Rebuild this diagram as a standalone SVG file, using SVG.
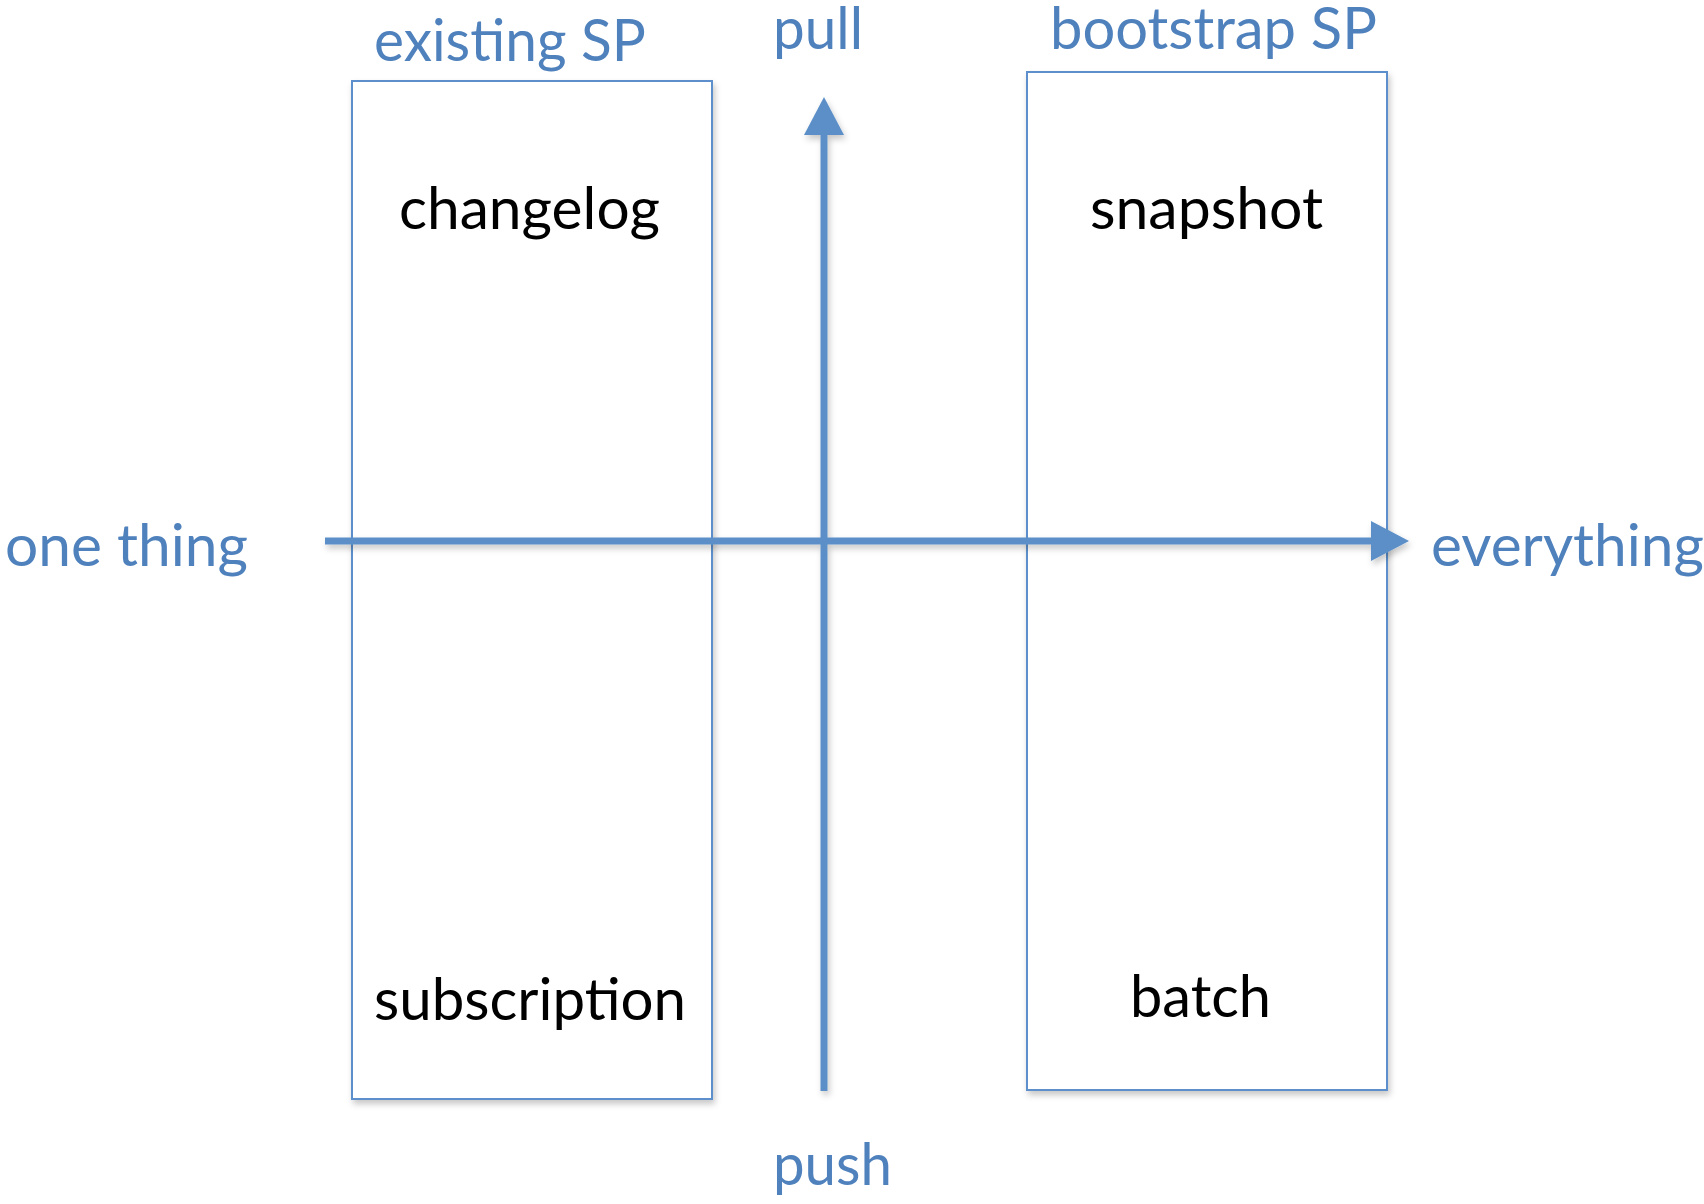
<svg xmlns="http://www.w3.org/2000/svg" width="1704" height="1204" viewBox="0 0 1704 1204">
  <defs>
    <style>
      .box { fill: #ffffff; stroke: #5B8FCB; stroke-width: 2; filter: url(#shadow); }
      .axis { stroke: #5B8FC8; stroke-width: 7; fill: none; }
      .lbl { font-family: Lato, "Open Sans", "Liberation Sans", sans-serif; font-size: 58px; fill: #4F81BD; }
      .txt { font-family: Lato, "Open Sans", "Liberation Sans", sans-serif; font-size: 58px; fill: #000000; }
    </style>
    <filter id="shadow" x="-10%" y="-10%" width="130%" height="130%">
      <feDropShadow dx="2" dy="4" stdDeviation="3" flood-color="#000000" flood-opacity="0.22"/>
    </filter>
    <marker id="head" markerUnits="userSpaceOnUse" markerWidth="40" markerHeight="42" refX="0" refY="20" orient="auto" overflow="visible">
      <path d="M0,0 L38,20 L0,40 Z" fill="#5B8FC8"/>
    </marker>
  </defs>
  <rect width="1704" height="1204" fill="#ffffff"/>

  <g id="existing-sp">
    <rect class="box" x="352" y="81" width="360" height="1018"/>
    <text class="lbl" x="374" y="61" textLength="272" lengthAdjust="spacingAndGlyphs">existing SP</text>
    <text class="txt" x="399" y="229" textLength="261" lengthAdjust="spacingAndGlyphs">changelog</text>
    <text class="txt" x="374" y="1020" textLength="312" lengthAdjust="spacingAndGlyphs">subscription</text>
  </g>

  <g id="bootstrap-sp">
    <rect class="box" x="1027" y="72" width="360" height="1018"/>
    <text class="lbl" x="1050" y="49" textLength="327" lengthAdjust="spacingAndGlyphs">bootstrap SP</text>
    <text class="txt" x="1090" y="229" textLength="233" lengthAdjust="spacingAndGlyphs">snapshot</text>
    <text class="txt" x="1130" y="1017" textLength="141" lengthAdjust="spacingAndGlyphs">batch</text>
  </g>

  <g id="connectors" filter="url(#shadow)">
    <line class="axis" x1="325" y1="541" x2="1371" y2="541" marker-end="url(#head)"/>
    <line class="axis" x1="824" y1="1091" x2="824" y2="135" marker-end="url(#head)"/>
  </g>

  <g id="axis-labels">
    <text class="lbl" x="773" y="49" textLength="90" lengthAdjust="spacingAndGlyphs">pull</text>
    <text class="lbl" x="773" y="1185" textLength="119" lengthAdjust="spacingAndGlyphs">push</text>
    <text class="lbl" x="5" y="566" textLength="243" lengthAdjust="spacingAndGlyphs">one thing</text>
    <text class="lbl" x="1431" y="566" textLength="273" lengthAdjust="spacingAndGlyphs">everything</text>
  </g>
</svg>
